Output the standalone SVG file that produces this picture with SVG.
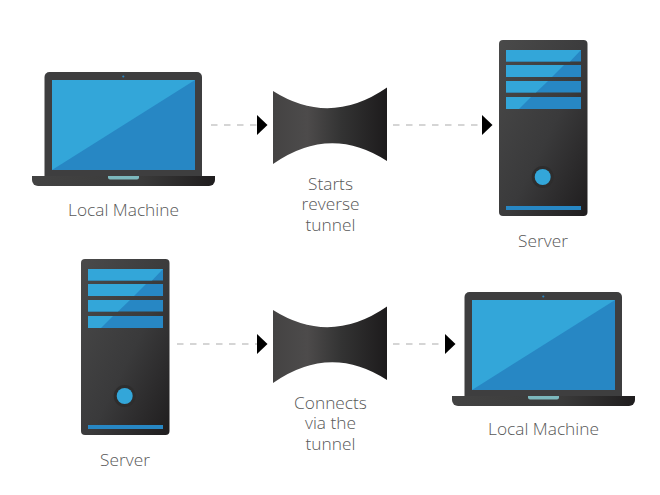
<svg xmlns="http://www.w3.org/2000/svg" xmlns:xlink="http://www.w3.org/1999/xlink" width="660" height="495" viewBox="0 0 660 495">
<style>
.lbl{font-family:"Open Sans","Noto Sans",sans-serif;font-size:17.3px;fill:#585858;text-anchor:middle;font-weight:300}
.dash{stroke:#c8c8c8;stroke-width:1.4;stroke-dasharray:6.5 6.5;fill:none}
.blue{fill:#33a6d9}.dark{fill:#2787c4}
</style>
<defs>
<linearGradient id="gBody" x1="0" y1="0" x2="1" y2="1"><stop offset="0" stop-color="#4a4a4a"/><stop offset="0.55" stop-color="#3a3a3b"/><stop offset="1" stop-color="#1f1d1e"/></linearGradient>
<linearGradient id="gBase" x1="0" y1="0" x2="1" y2="0"><stop offset="0" stop-color="#434343"/><stop offset="0.6" stop-color="#3a3a3a"/><stop offset="1" stop-color="#1f1d1e"/></linearGradient>
<linearGradient id="gTunnel" x1="0" y1="0" x2="1" y2="0"><stop offset="0" stop-color="#444343"/><stop offset="0.3" stop-color="#4d4b4b"/><stop offset="0.6" stop-color="#333"/><stop offset="1" stop-color="#1d1b1c"/></linearGradient>
<marker id="arrow" markerUnits="userSpaceOnUse" markerWidth="11" markerHeight="20" refX="0" refY="10" orient="auto"><path d="M0 0L10.500 10L0 20Z" fill="#000"/></marker>
<g id="laptop">
<path d="M44.500 176V77a5 5 0 0 1 5-5H197a5 5 0 0 1 5 5V176Z" fill="#3e3e3f"/>
<rect x="52" y="80" width="143" height="90" class="dark"/>
<path d="M52 80H195L52 170Z" class="blue"/>
<circle cx="123.300" cy="76.500" r="1.100" fill="#2787c4"/>
<path d="M32 176H215V180a6 6 0 0 1-6 6H38a6 6 0 0 1-6-6Z" fill="url(#gBase)"/>
<path d="M108 176H139V177.500a2 2 0 0 1-2 2H110a2 2 0 0 1-2-2Z" fill="#7cb8bd"/>
</g>
<g id="tower">
<rect x="499" y="40" width="88.500" height="176" rx="4" fill="url(#gBody)"/>
<rect x="506" y="50" width="75" height="11.500" class="dark"/><path d="M506 50H581L570 61.500H506Z" class="blue"/>
<rect x="506" y="65" width="75" height="12" class="dark"/><path d="M506 65H564L552 77H506Z" class="blue"/>
<rect x="506" y="81" width="75" height="11.500" class="dark"/><path d="M506 81H548L536 92.500H506Z" class="blue"/>
<rect x="506" y="97" width="75" height="12" class="dark"/><path d="M506 97H531L519 109H506Z" class="blue"/>
<circle cx="542.700" cy="177" r="11" fill="#2e2d2d"/>
<circle cx="542.700" cy="177" r="8" class="blue"/>
<rect x="506" y="206" width="75" height="4" class="dark"/>
</g>
<path id="tunnel" d="M273 91Q330 127 387 87.500V161Q330 124 273 164Z" fill="url(#gTunnel)"/>
</defs>
<g id="connectors">
<path class="dash" d="M211 125H257" marker-end="url(#arrow)"/>
<path class="dash" d="M393 125H482" marker-end="url(#arrow)"/>
<path class="dash" d="M177 344H257" marker-end="url(#arrow)"/>
<path class="dash" d="M393 344H445" marker-end="url(#arrow)"/>
</g>
<g id="local-machine-1"><use xlink:href="#laptop" href="#laptop"/><text class="lbl" x="123.500" y="216">Local Machine</text></g>
<g id="tunnel-1"><use xlink:href="#tunnel" href="#tunnel"/><text class="lbl" x="330.500" y="189.500">Starts</text><text class="lbl" x="330.500" y="210">reverse</text><text class="lbl" x="330.500" y="231">tunnel</text></g>
<g id="server-1"><use xlink:href="#tower" href="#tower"/><text class="lbl" x="543" y="246.500">Server</text></g>
<g id="server-2"><use xlink:href="#tower" href="#tower" x="-418" y="219"/><text class="lbl" x="125" y="465.500">Server</text></g>
<g id="tunnel-2"><use xlink:href="#tunnel" href="#tunnel" y="219"/><text class="lbl" x="330.500" y="408.500">Connects</text><text class="lbl" x="330.500" y="429">via the</text><text class="lbl" x="330.500" y="450">tunnel</text></g>
<g id="local-machine-2"><use xlink:href="#laptop" href="#laptop" x="420" y="220"/><text class="lbl" x="543.500" y="435">Local Machine</text></g>
</svg>
